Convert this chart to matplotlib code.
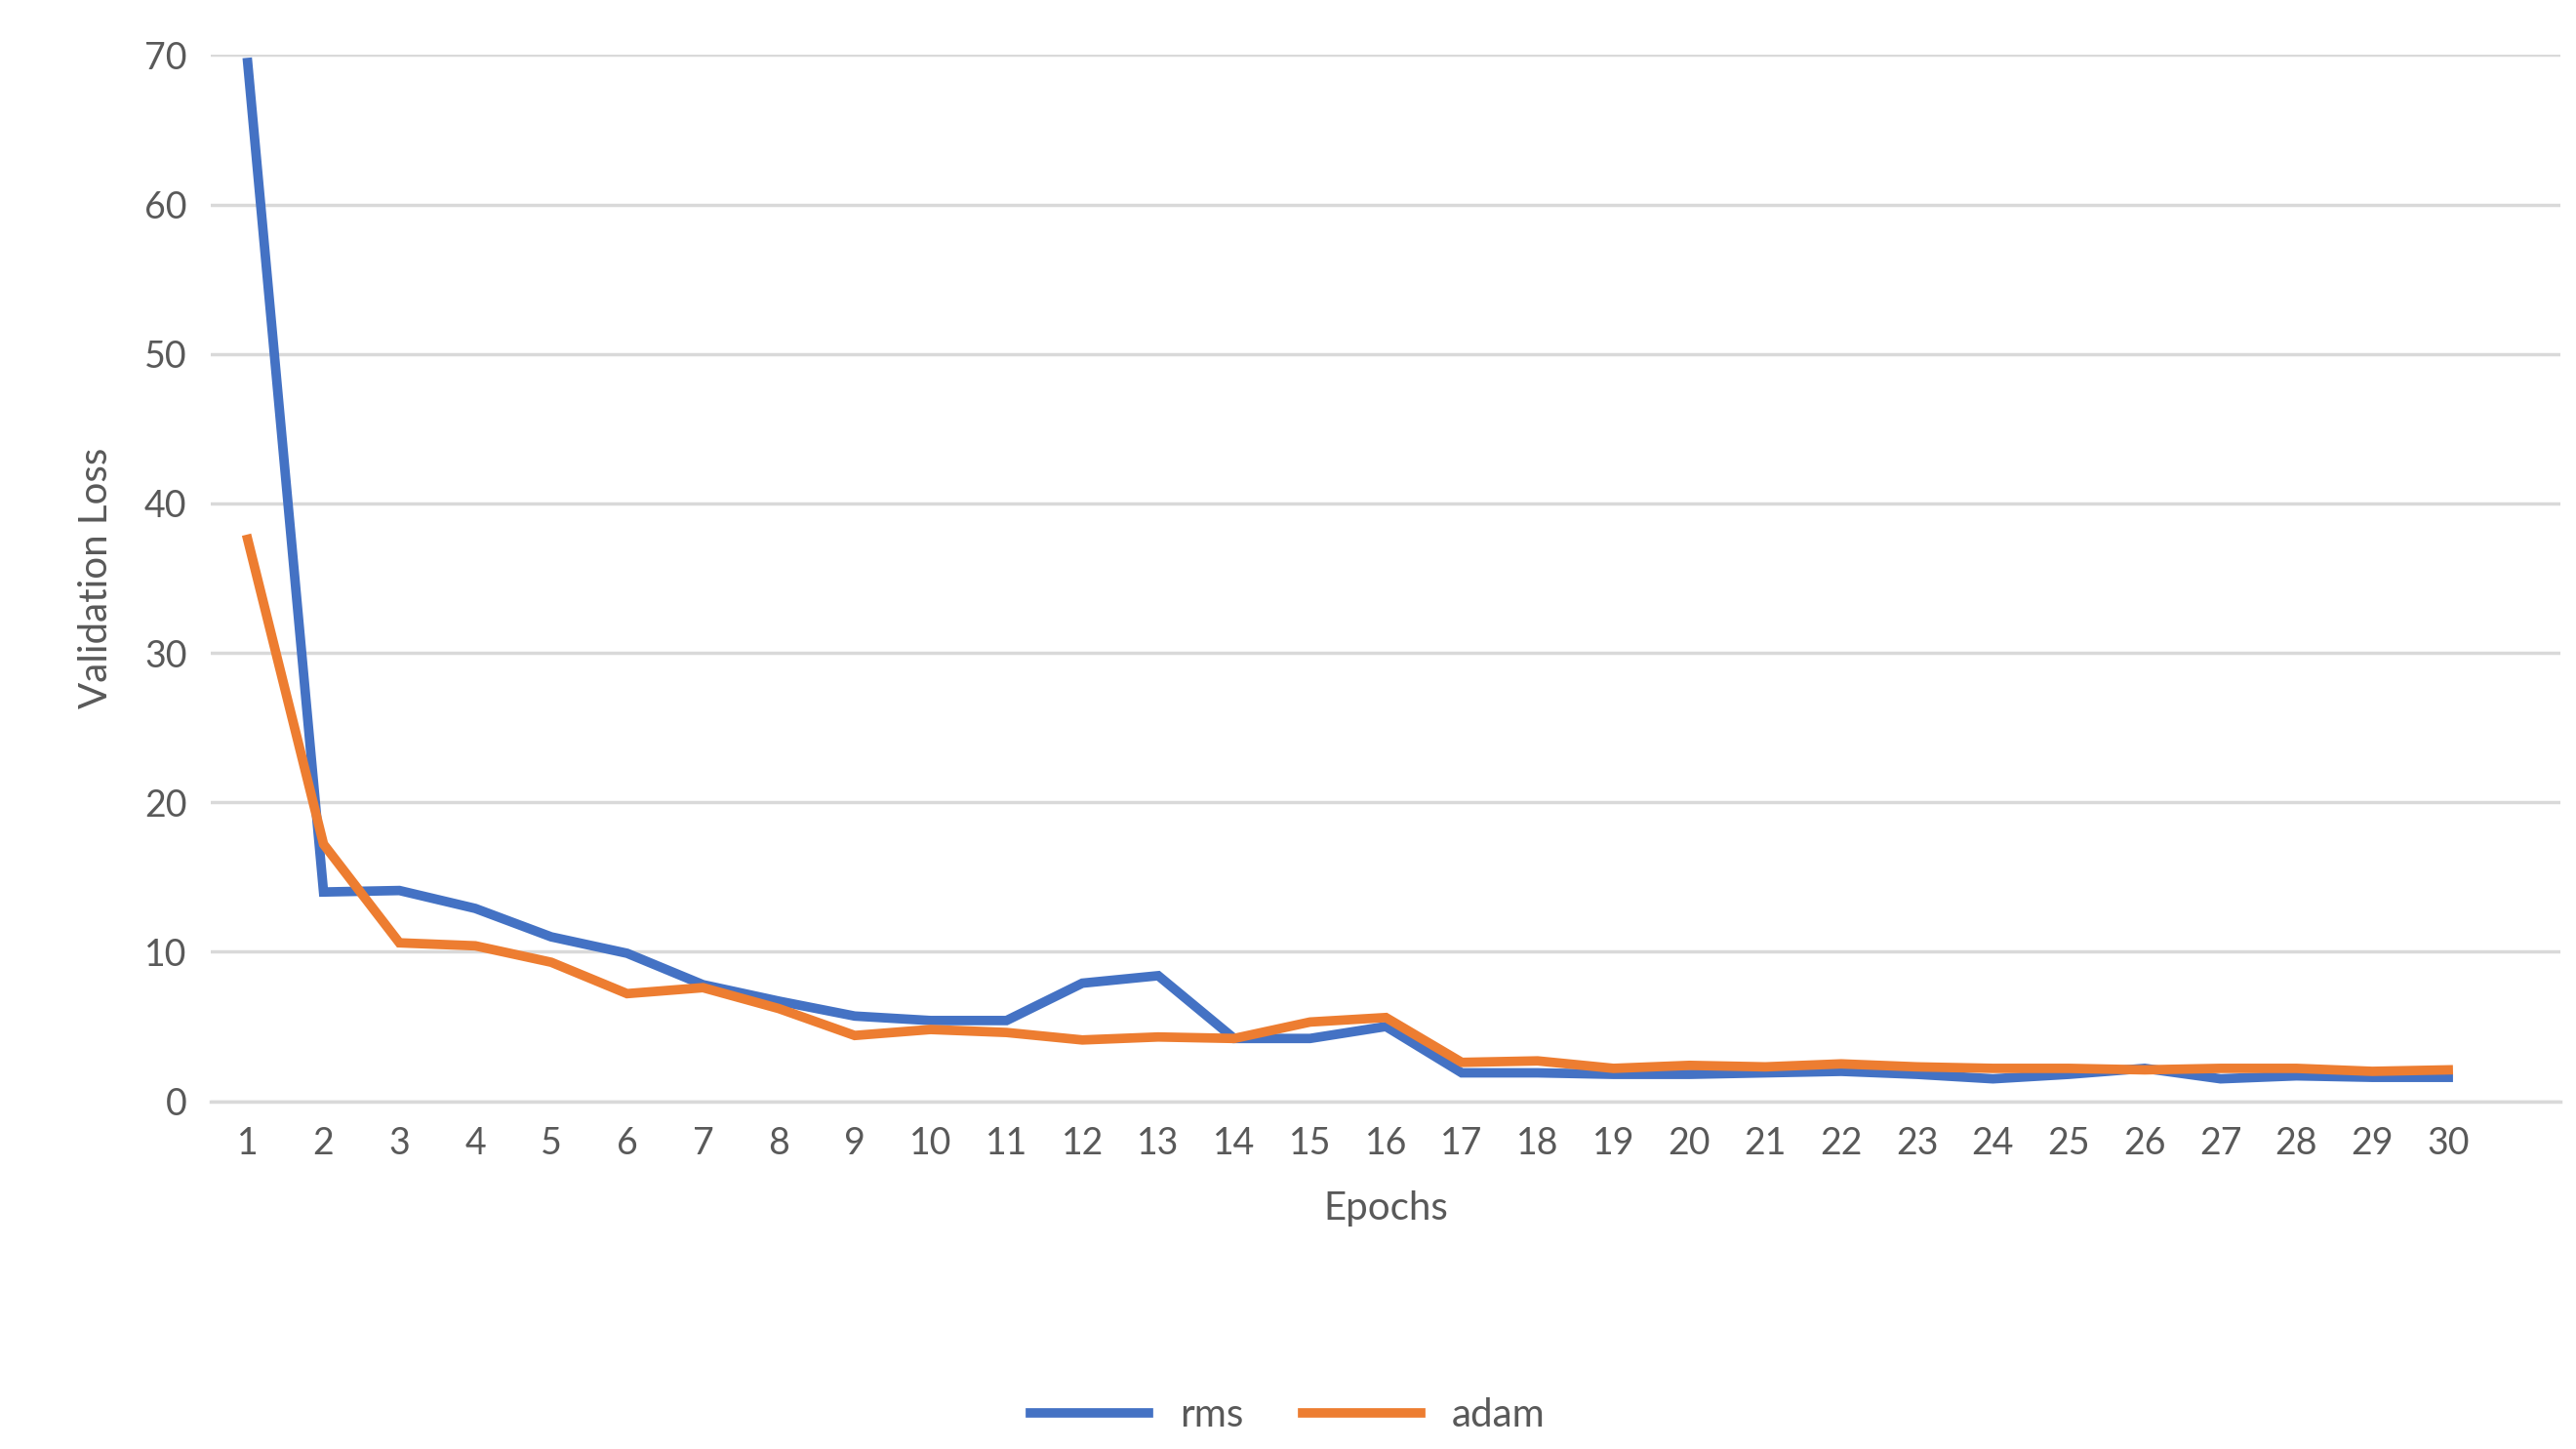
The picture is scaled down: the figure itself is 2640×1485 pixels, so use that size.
import matplotlib
matplotlib.use("Agg")
import matplotlib.pyplot as plt

epochs = list(range(1, 31))
rms = [69.5, 14.0, 14.1, 12.9, 11.0, 9.9, 7.8, 6.7, 5.7, 5.4, 5.4, 7.9, 8.4, 4.2, 4.2,
       5.0, 1.9, 1.9, 1.8, 1.8, 1.9, 2.0, 1.8, 1.5, 1.8, 2.2, 1.5, 1.7, 1.6, 1.6]
adam = [37.6, 17.2, 10.6, 10.4, 9.3, 7.2, 7.6, 6.2, 4.4, 4.8, 4.6, 4.1, 4.3, 4.2, 5.3,
        5.6, 2.6, 2.7, 2.2, 2.4, 2.3, 2.5, 2.3, 2.2, 2.2, 2.1, 2.2, 2.2, 2.0, 2.1]

plt.rcParams["font.family"] = ["Lato", "DejaVu Sans"]
TXT = "#595959"

fig = plt.figure(figsize=(26.4, 14.85), dpi=100)
ax = fig.add_axes([0.082, 0.240, 0.912, 0.722])
ax.plot(epochs, rms, color="#4472C4", lw=7, label="rms", solid_joinstyle="miter")
ax.plot(epochs, adam, color="#ED7D31", lw=7, label="adam", solid_joinstyle="miter")

ax.set_xlim(0.52, 31.48)
ax.set_ylim(0, 70)
ax.set_xticks(epochs)
ax.set_yticks(range(0, 71, 10))
ax.grid(axis="y", color="#D9D9D9", lw=2.5)
ax.set_axisbelow(True)
for s in ["top", "right", "left"]:
    ax.spines[s].set_visible(False)
ax.spines["bottom"].set_color("#D9D9D9")
ax.spines["bottom"].set_linewidth(2.5)
ax.tick_params(length=0, labelsize=27, colors=TXT, pad=18)
ax.set_xlabel("Epochs", fontsize=29, color=TXT, labelpad=22)
ax.set_ylabel("Validation Loss", fontsize=29, color=TXT, labelpad=22)

fig.legend(loc="center", bbox_to_anchor=(0.5, 0.023), ncol=2, frameon=False,
           fontsize=29, labelcolor=TXT, handlelength=3.0, columnspacing=1.5)

fig.savefig("out.png", dpi=100)
